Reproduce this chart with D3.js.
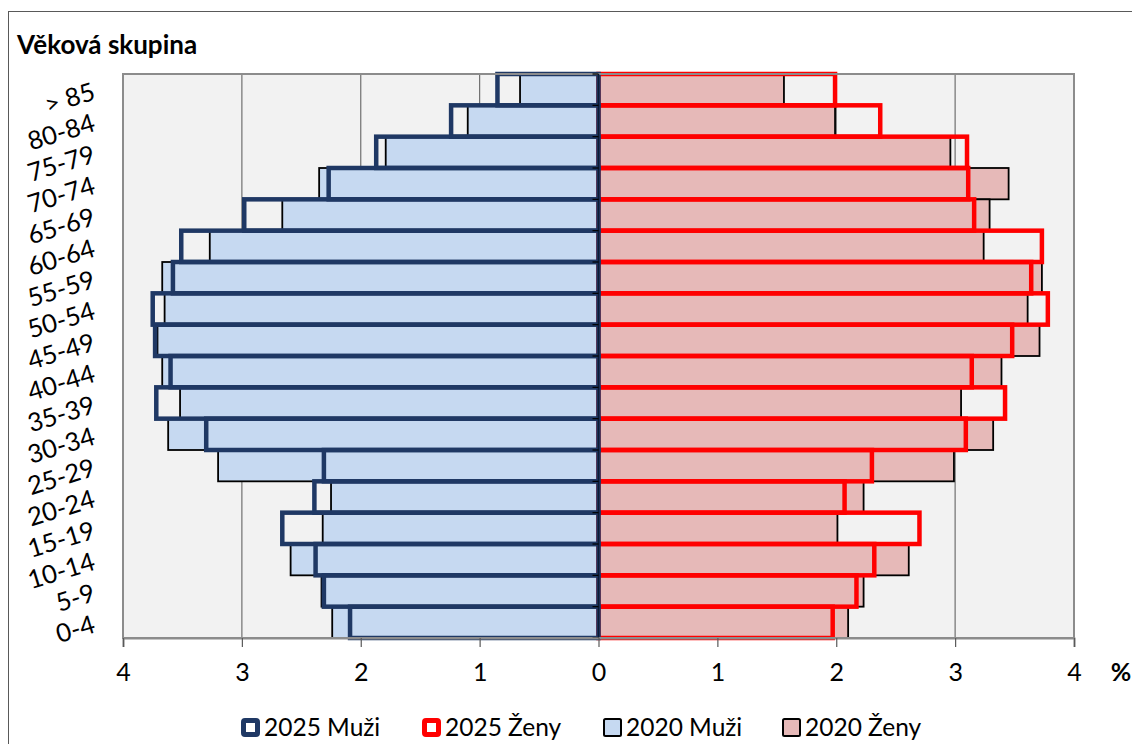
<!DOCTYPE html>
<html>
<head>
<meta charset="utf-8">
<script src="https://cdn.jsdelivr.net/npm/d3@7"></script>
<style>
  body { margin: 0; background: #fff; }
  svg text { font-family: Lato, "Open Sans", sans-serif; fill: #000; }
</style>
</head>
<body>
<div id="chart"></div>
<script>
let width = 1132;
let height = 744;
let plot = { left: 123, right: 1074, top: 74, bottom: 638 };

// top to bottom, as drawn
let ageGroups = ["> 85", "80-84", "75-79", "70-74", "65-69", "60-64", "55-59", "50-54", "45-49",
    "40-44", "35-39", "30-34", "25-29", "20-24", "15-19", "10-14", "5-9", "0-4"];
let muzi2025 = [0.85, 1.24, 1.87, 2.27, 2.98, 3.51, 3.58, 3.75, 3.73, 3.60, 3.72, 3.30, 2.31, 2.39, 2.66, 2.38, 2.31, 2.09];
let muzi2020 = [0.66, 1.10, 1.79, 2.35, 2.66, 3.27, 3.67, 3.65, 3.71, 3.67, 3.52, 3.62, 3.20, 2.25, 2.32, 2.59, 2.33, 2.24];
let zeny2025 = [1.99, 2.37, 3.10, 3.11, 3.16, 3.73, 3.64, 3.78, 3.48, 3.14, 3.42, 3.09, 2.30, 2.07, 2.70, 2.32, 2.17, 1.97];
let zeny2020 = [1.56, 1.99, 2.96, 3.45, 3.29, 3.24, 3.73, 3.61, 3.71, 3.39, 3.05, 3.32, 2.99, 2.23, 2.01, 2.61, 2.23, 2.10];
let xTicks = [-4, -3, -2, -1, 0, 1, 2, 3, 4];
let legendItems = [
    { name: "2025 Muži", fill: "#fff", stroke: "#1f3864", sw: 5 },
    { name: "2025 Ženy", fill: "#fff", stroke: "#ff0000", sw: 5 },
    { name: "2020 Muži", fill: "#c6d9f1", stroke: "#000", sw: 2 },
    { name: "2020 Ženy", fill: "#e6b9b8", stroke: "#000", sw: 2 }
];

let svg = d3.select("#chart").append("svg")
    .attr("width", width)
    .attr("height", height);

// outer chart frame
svg.append("rect")
    .attr("x", 8.5).attr("y", 11.5)
    .attr("width", width + 20).attr("height", height + 20)
    .attr("fill", "#fff").attr("stroke", "#595959").attr("stroke-width", 1);

let x = d3.scaleLinear().domain([-4, 4]).range([plot.left, plot.right]);
let y = d3.scaleBand().domain(ageGroups).range([plot.top, plot.bottom]).padding(0);

svg.append("rect")
    .attr("x", plot.left).attr("y", plot.top)
    .attr("width", plot.right - plot.left).attr("height", plot.bottom - plot.top)
    .attr("fill", "#f2f2f2");

// gridlines
svg.append("g").selectAll("line")
    .data(xTicks.filter(d => d !== 0 && Math.abs(d) !== 4))
    .enter().append("line")
    .attr("x1", d => x(d)).attr("x2", d => x(d))
    .attr("y1", plot.top).attr("y2", plot.bottom)
    .attr("stroke", "#707070").attr("stroke-width", 1.2);

function bars(values, side, cls, fill, stroke, sw) {
    svg.append("g").attr("class", cls).selectAll("rect")
        .data(values)
        .enter().append("rect")
        .attr("x", d => side < 0 ? x(-d) : x(0))
        .attr("width", d => x(d) - x(0))
        .attr("y", (d, i) => y(ageGroups[i]))
        .attr("height", y.bandwidth())
        .attr("fill", fill)
        .attr("stroke", stroke)
        .attr("stroke-width", sw);
}

bars(muzi2020, -1, "m2020", "#c6d9f1", "#000", 1.8);
bars(zeny2020, 1, "z2020", "#e6b9b8", "#000", 1.8);
bars(zeny2025, 1, "z2025", "none", "#ff0000", 4.5);
bars(muzi2025, -1, "m2025", "none", "#1f3864", 4.5);

// plot border
svg.append("rect")
    .attr("x", plot.left).attr("y", plot.top)
    .attr("width", plot.right - plot.left).attr("height", plot.bottom - plot.top)
    .attr("fill", "none").attr("stroke", "#8c8c8c").attr("stroke-width", 2);

// zero axis with category ticks
svg.append("line")
    .attr("x1", x(0)).attr("x2", x(0))
    .attr("y1", plot.top).attr("y2", plot.bottom)
    .attr("stroke", "#0d1a33").attr("stroke-width", 1.5);
svg.append("g").selectAll("line")
    .data(d3.range(ageGroups.length + 1))
    .enter().append("line")
    .attr("x1", x(0) - 6).attr("x2", x(0))
    .attr("y1", i => plot.top + i * y.step())
    .attr("y2", i => plot.top + i * y.step())
    .attr("stroke", "#000").attr("stroke-width", 1.2);

// x axis
let xAxis = svg.append("g")
    .attr("transform", "translate(0," + plot.bottom + ")")
    .call(d3.axisBottom(x).tickValues(xTicks).tickSize(9).tickPadding(16)
        .tickFormat(d => Math.abs(d)));
xAxis.select(".domain").attr("stroke", "#8c8c8c").attr("stroke-width", 2);
xAxis.selectAll(".tick line").attr("stroke", "#595959").attr("stroke-width", 1.2);
xAxis.selectAll(".tick text")
    .style("font-family", "Lato, sans-serif")
    .style("font-size", "25px")
    .attr("fill", "#000");

svg.append("text")
    .attr("x", 1121).attr("y", 681)
    .attr("text-anchor", "middle")
    .style("font-size", "25px").style("font-weight", "bold")
    .text("%");

// y labels, slanted
svg.append("g").selectAll("text")
    .data(ageGroups)
    .enter().append("text")
    .attr("transform", d => "translate(94," + (y(d) + y.bandwidth() / 2 + 1) + ") rotate(-17)")
    .attr("text-anchor", "end")
    .attr("dy", "0.35em")
    .style("font-size", "25.5px")
    .text(d => d);

svg.append("text")
    .attr("x", 17).attr("y", 54)
    .style("font-size", "26px").style("font-weight", "bold")
    .text("Věková skupina");

// legend
let legendX = [241, 422, 603, 782];
let legend = svg.append("g").selectAll("g")
    .data(legendItems)
    .enter().append("g")
    .attr("transform", (d, i) => "translate(" + legendX[i] + ",718)");
legend.append("rect")
    .attr("x", d => d.sw / 2).attr("y", d => d.sw / 2)
    .attr("width", d => 19 - d.sw).attr("height", d => 19 - d.sw)
    .attr("rx", 1.5)
    .attr("fill", d => d.fill)
    .attr("stroke", d => d.stroke)
    .attr("stroke-width", d => d.sw);
legend.append("text")
    .attr("x", 23).attr("y", 18)
    .style("font-size", "24.5px")
    .text(d => d.name);
</script>
</body>
</html>
